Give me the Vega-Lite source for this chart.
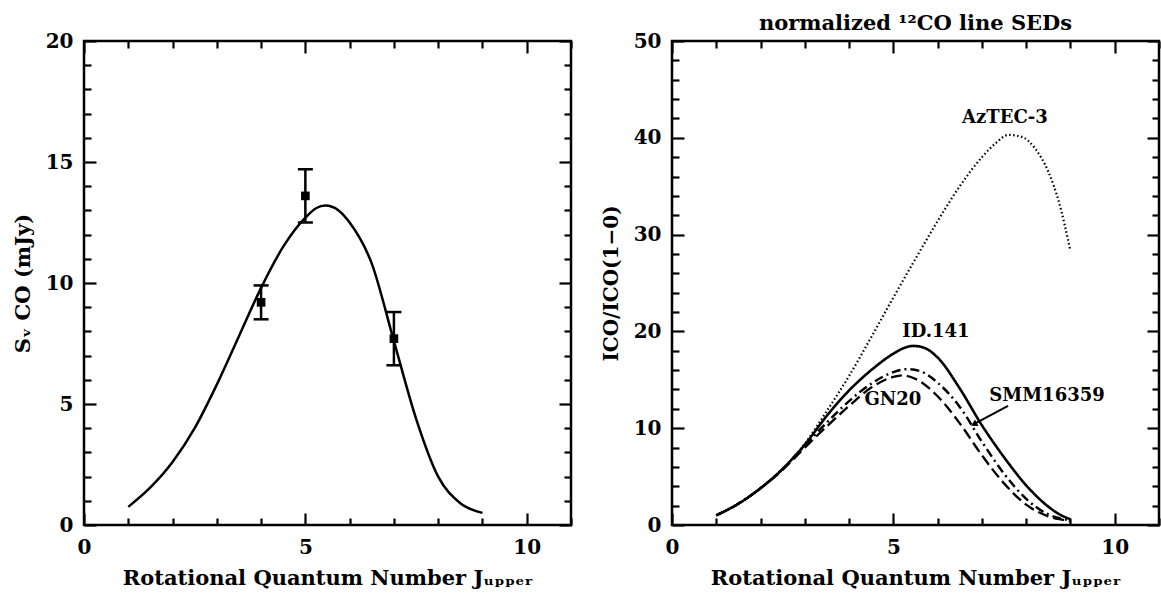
{
  "$schema": "https://vega.github.io/schema/vega-lite/v6.json",
  "background": "white",
  "padding": {"left": 10, "top": 11, "right": 0, "bottom": 0},
  "bounds": "flush",
  "spacing": 101,
  "config": {
    "view": {"stroke": "black", "strokeWidth": 2.5},
    "font": "DejaVu Serif",
    "axis": {
      "grid": false, "domain": false,
      "labelFont": "DejaVu Serif", "labelFontWeight": "bold", "labelFontSize": 20, "labelColor": "black",
      "titleFont": "DejaVu Serif", "titleFontWeight": "bold", "titleFontSize": 21, "titleColor": "black",
      "tickColor": "black", "tickWidth": 2.2, "labelFlush": false, "labelOverlap": false
    },
    "title": {"font": "DejaVu Serif", "fontWeight": "bold", "fontSize": 21, "color": "black"}
  },
  "hconcat": [
    {
      "width": 487, "height": 484,
      "layer": [
        {
          "data": {"values": [
            {"J": 1, "S": 0.75}, {"J": 1.5, "S": 1.55}, {"J": 2, "S": 2.6}, {"J": 2.5, "S": 4.0},
            {"J": 3, "S": 5.8}, {"J": 3.5, "S": 7.8}, {"J": 4, "S": 9.8}, {"J": 4.5, "S": 11.5},
            {"J": 5, "S": 12.7}, {"J": 5.25, "S": 13.1}, {"J": 5.45, "S": 13.2}, {"J": 5.75, "S": 13.0},
            {"J": 6, "S": 12.5}, {"J": 6.5, "S": 10.8}, {"J": 7, "S": 7.6}, {"J": 7.5, "S": 4.4},
            {"J": 8, "S": 2.0}, {"J": 8.5, "S": 0.9}, {"J": 9, "S": 0.5}
          ]},
          "mark": {"type": "line", "color": "black", "strokeWidth": 2.5, "interpolate": "monotone"},
          "encoding": {
            "x": {"field": "J", "type": "quantitative", "scale": {"domain": [0, 11], "nice": false},
              "axis": {"orient": "bottom", "values": [0, 5, 10], "tickSize": -12,
                "labelPadding": 24, "title": "Rotational Quantum Number Jᵤₚₚₑᵣ", "titlePadding": 10}},
            "y": {"field": "S", "type": "quantitative", "scale": {"domain": [0, 20], "nice": false},
              "axis": {"orient": "left", "values": [0, 5, 10, 15, 20], "tickSize": -12,
                "labelPadding": 23, "title": "Sᵥ  CO (mJy)", "titlePadding": 12}}
          }
        },
        {
          "data": {"values": [
            {"J": 4, "S": 9.2, "lo": 8.5, "hi": 9.9},
            {"J": 5, "S": 13.6, "lo": 12.5, "hi": 14.7},
            {"J": 7, "S": 7.7, "lo": 6.6, "hi": 8.8}
          ]},
          "mark": {"type": "rule", "color": "black", "strokeWidth": 2.5},
          "encoding": {
            "x": {"field": "J", "type": "quantitative",
              "axis": {"orient": "top", "values": [0, 5, 10], "labels": false, "title": null, "tickSize": -12}},
            "y": {"field": "lo", "type": "quantitative",
              "axis": {"orient": "right", "values": [0, 5, 10, 15, 20], "labels": false, "title": null, "tickSize": -12}},
            "y2": {"field": "hi"}
          }
        },
        {
          "data": {"values": [
            {"J": 4, "S": 9.2, "lo": 8.5, "hi": 9.9},
            {"J": 5, "S": 13.6, "lo": 12.5, "hi": 14.7},
            {"J": 7, "S": 7.7, "lo": 6.6, "hi": 8.8}
          ]},
          "mark": {"type": "tick", "orient": "horizontal", "size": 15, "thickness": 2.5, "color": "black", "opacity": 1},
          "encoding": {
            "x": {"field": "J", "type": "quantitative",
              "axis": {"orient": "bottom", "values": [1, 2, 3, 4, 6, 7, 8, 9, 11], "labels": false, "title": null, "tickSize": -7}},
            "y": {"field": "lo", "type": "quantitative",
              "axis": {"orient": "left", "values": [1, 2, 3, 4, 6, 7, 8, 9, 11, 12, 13, 14, 16, 17, 18, 19], "labels": false, "title": null, "tickSize": -7}}
          }
        },
        {
          "data": {"values": [
            {"J": 4, "S": 9.2, "lo": 8.5, "hi": 9.9},
            {"J": 5, "S": 13.6, "lo": 12.5, "hi": 14.7},
            {"J": 7, "S": 7.7, "lo": 6.6, "hi": 8.8}
          ]},
          "mark": {"type": "tick", "orient": "horizontal", "size": 15, "thickness": 2.5, "color": "black", "opacity": 1},
          "encoding": {
            "x": {"field": "J", "type": "quantitative",
              "axis": {"orient": "top", "values": [1, 2, 3, 4, 6, 7, 8, 9, 11], "labels": false, "title": null, "tickSize": -7}},
            "y": {"field": "hi", "type": "quantitative",
              "axis": {"orient": "right", "values": [1, 2, 3, 4, 6, 7, 8, 9, 11, 12, 13, 14, 16, 17, 18, 19], "labels": false, "title": null, "tickSize": -7}}
          }
        },
        {
          "data": {"values": [
            {"J": 4, "S": 9.2, "lo": 8.5, "hi": 9.9},
            {"J": 5, "S": 13.6, "lo": 12.5, "hi": 14.7},
            {"J": 7, "S": 7.7, "lo": 6.6, "hi": 8.8}
          ]},
          "mark": {"type": "point", "shape": "square", "filled": true, "size": 75, "color": "black", "opacity": 1},
          "encoding": {
            "x": {"field": "J", "type": "quantitative", "axis": null},
            "y": {"field": "S", "type": "quantitative", "axis": null}
          }
        }
      ],
      "resolve": {"axis": {"x": "independent", "y": "independent"}}
    },
    {
      "width": 487, "height": 484,
      "title": {"text": "normalized ¹²CO line SEDs", "offset": -3},
      "layer": [
        {
          "data": {"values": [
            {"series": "ID.141", "J": 1, "I": 1.0}, {"series": "ID.141", "J": 1.5, "I": 2.2}, {"series": "ID.141", "J": 2, "I": 3.8},
            {"series": "ID.141", "J": 2.5, "I": 5.8}, {"series": "ID.141", "J": 3, "I": 8.3}, {"series": "ID.141", "J": 3.5, "I": 11.3},
            {"series": "ID.141", "J": 4, "I": 13.9}, {"series": "ID.141", "J": 4.5, "I": 16.0}, {"series": "ID.141", "J": 5, "I": 17.7},
            {"series": "ID.141", "J": 5.25, "I": 18.3}, {"series": "ID.141", "J": 5.45, "I": 18.5}, {"series": "ID.141", "J": 5.7, "I": 18.3},
            {"series": "ID.141", "J": 6, "I": 17.3}, {"series": "ID.141", "J": 6.5, "I": 14.1}, {"series": "ID.141", "J": 7, "I": 10.3},
            {"series": "ID.141", "J": 7.5, "I": 7.0}, {"series": "ID.141", "J": 8, "I": 4.1}, {"series": "ID.141", "J": 8.5, "I": 1.9},
            {"series": "ID.141", "J": 8.75, "I": 1.1}, {"series": "ID.141", "J": 9, "I": 0.6},
            {"series": "SMM16359", "J": 1, "I": 1.0}, {"series": "SMM16359", "J": 1.5, "I": 2.2}, {"series": "SMM16359", "J": 2, "I": 3.8},
            {"series": "SMM16359", "J": 2.5, "I": 5.8}, {"series": "SMM16359", "J": 3, "I": 8.2}, {"series": "SMM16359", "J": 3.5, "I": 10.6},
            {"series": "SMM16359", "J": 4, "I": 12.8}, {"series": "SMM16359", "J": 4.5, "I": 14.6}, {"series": "SMM16359", "J": 5, "I": 15.8},
            {"series": "SMM16359", "J": 5.3, "I": 16.1}, {"series": "SMM16359", "J": 5.6, "I": 15.9}, {"series": "SMM16359", "J": 6, "I": 14.7},
            {"series": "SMM16359", "J": 6.5, "I": 12.2}, {"series": "SMM16359", "J": 7, "I": 8.6}, {"series": "SMM16359", "J": 7.5, "I": 5.3},
            {"series": "SMM16359", "J": 8, "I": 2.7}, {"series": "SMM16359", "J": 8.5, "I": 1.1}, {"series": "SMM16359", "J": 8.75, "I": 0.7},
            {"series": "SMM16359", "J": 9, "I": 0.5},
            {"series": "GN20", "J": 1, "I": 1.0}, {"series": "GN20", "J": 1.5, "I": 2.2}, {"series": "GN20", "J": 2, "I": 3.8},
            {"series": "GN20", "J": 2.5, "I": 5.7}, {"series": "GN20", "J": 3, "I": 8.0}, {"series": "GN20", "J": 3.5, "I": 10.2},
            {"series": "GN20", "J": 4, "I": 12.3}, {"series": "GN20", "J": 4.5, "I": 14.2}, {"series": "GN20", "J": 5, "I": 15.3},
            {"series": "GN20", "J": 5.2, "I": 15.45}, {"series": "GN20", "J": 5.5, "I": 15.1}, {"series": "GN20", "J": 6, "I": 13.3},
            {"series": "GN20", "J": 6.5, "I": 10.5}, {"series": "GN20", "J": 7, "I": 7.2}, {"series": "GN20", "J": 7.5, "I": 4.3},
            {"series": "GN20", "J": 8, "I": 2.1}, {"series": "GN20", "J": 8.5, "I": 0.9}, {"series": "GN20", "J": 8.75, "I": 0.6},
            {"series": "GN20", "J": 9, "I": 0.4},
            {"series": "AzTEC-3", "J": 1, "I": 1.0}, {"series": "AzTEC-3", "J": 1.5, "I": 2.2}, {"series": "AzTEC-3", "J": 2, "I": 3.8},
            {"series": "AzTEC-3", "J": 2.5, "I": 5.8}, {"series": "AzTEC-3", "J": 3, "I": 8.4}, {"series": "AzTEC-3", "J": 3.5, "I": 11.8},
            {"series": "AzTEC-3", "J": 4, "I": 15.4}, {"series": "AzTEC-3", "J": 4.5, "I": 19.4}, {"series": "AzTEC-3", "J": 5, "I": 23.5},
            {"series": "AzTEC-3", "J": 5.5, "I": 27.5}, {"series": "AzTEC-3", "J": 6, "I": 31.4}, {"series": "AzTEC-3", "J": 6.5, "I": 35.0},
            {"series": "AzTEC-3", "J": 7, "I": 38.0}, {"series": "AzTEC-3", "J": 7.3, "I": 39.4}, {"series": "AzTEC-3", "J": 7.6, "I": 40.3},
            {"series": "AzTEC-3", "J": 7.9, "I": 40.1}, {"series": "AzTEC-3", "J": 8.2, "I": 38.9}, {"series": "AzTEC-3", "J": 8.5, "I": 36.5},
            {"series": "AzTEC-3", "J": 8.75, "I": 33.2}, {"series": "AzTEC-3", "J": 9, "I": 28.3}
          ]},
          "mark": {"type": "line", "color": "black", "interpolate": "monotone"},
          "encoding": {
            "x": {"field": "J", "type": "quantitative", "scale": {"domain": [0, 11], "nice": false},
              "axis": {"orient": "bottom", "values": [0, 5, 10], "tickSize": -12,
                "labelPadding": 24, "title": "Rotational Quantum Number Jᵤₚₚₑᵣ", "titlePadding": 10}},
            "y": {"field": "I", "type": "quantitative", "scale": {"domain": [0, 50], "nice": false},
              "axis": {"orient": "left", "values": [0, 10, 20, 30, 40, 50], "tickSize": -12,
                "labelPadding": 23, "title": "ICO/ICO(1−0)", "titleFontSize": 20, "titlePadding": 12}},
            "strokeDash": {"field": "series", "type": "nominal", "legend": null,
              "scale": {"domain": ["ID.141", "SMM16359", "GN20", "AzTEC-3"], "range": [[1, 0], [9, 4, 2, 4], [11, 5], [1.5, 2.5]]}},
            "strokeWidth": {"field": "series", "type": "nominal", "legend": null,
              "scale": {"domain": ["ID.141", "SMM16359", "GN20", "AzTEC-3"], "range": [2.6, 2.2, 2.2, 1.5]}}
          }
        },
        {
          "data": {"values": [
            {"J": 7.52, "I": 42.0, "label": "AzTEC-3"},
            {"J": 5.96, "I": 19.9, "label": "ID.141"},
            {"J": 4.99, "I": 12.9, "label": "GN20"},
            {"J": 8.47, "I": 13.3, "label": "SMM16359"}
          ]},
          "mark": {"type": "text", "font": "DejaVu Serif", "fontWeight": "bold", "fontSize": 18, "color": "black", "align": "center", "baseline": "middle"},
          "encoding": {
            "x": {"field": "J", "type": "quantitative",
              "axis": {"orient": "top", "values": [0, 5, 10], "labels": false, "title": null, "tickSize": -12}},
            "y": {"field": "I", "type": "quantitative",
              "axis": {"orient": "right", "values": [0, 10, 20, 30, 40, 50], "labels": false, "title": null, "tickSize": -12}},
            "text": {"field": "label"}
          }
        },
        {
          "data": {"values": [{"J": 7.59, "I": 12.3, "J2": 6.85, "I2": 10.5}]},
          "mark": {"type": "rule", "color": "black", "strokeWidth": 2},
          "encoding": {
            "x": {"field": "J", "type": "quantitative",
              "axis": {"orient": "bottom", "values": [1, 2, 3, 4, 6, 7, 8, 9, 11], "labels": false, "title": null, "tickSize": -7}},
            "y": {"field": "I", "type": "quantitative",
              "axis": {"orient": "left", "values": [2, 4, 6, 8, 12, 14, 16, 18, 22, 24, 26, 28, 32, 34, 36, 38, 42, 44, 46, 48], "labels": false, "title": null, "tickSize": -7}},
            "x2": {"field": "J2"},
            "y2": {"field": "I2"}
          }
        },
        {
          "data": {"values": [{"J": 6.82, "I": 10.4}]},
          "mark": {"type": "point", "shape": "triangle-up", "filled": true, "size": 55, "angle": 242, "color": "black", "opacity": 1},
          "encoding": {
            "x": {"field": "J", "type": "quantitative",
              "axis": {"orient": "top", "values": [1, 2, 3, 4, 6, 7, 8, 9, 11], "labels": false, "title": null, "tickSize": -7}},
            "y": {"field": "I", "type": "quantitative",
              "axis": {"orient": "right", "values": [2, 4, 6, 8, 12, 14, 16, 18, 22, 24, 26, 28, 32, 34, 36, 38, 42, 44, 46, 48], "labels": false, "title": null, "tickSize": -7}}
          }
        }
      ],
      "resolve": {"axis": {"x": "independent", "y": "independent"}}
    }
  ]
}
